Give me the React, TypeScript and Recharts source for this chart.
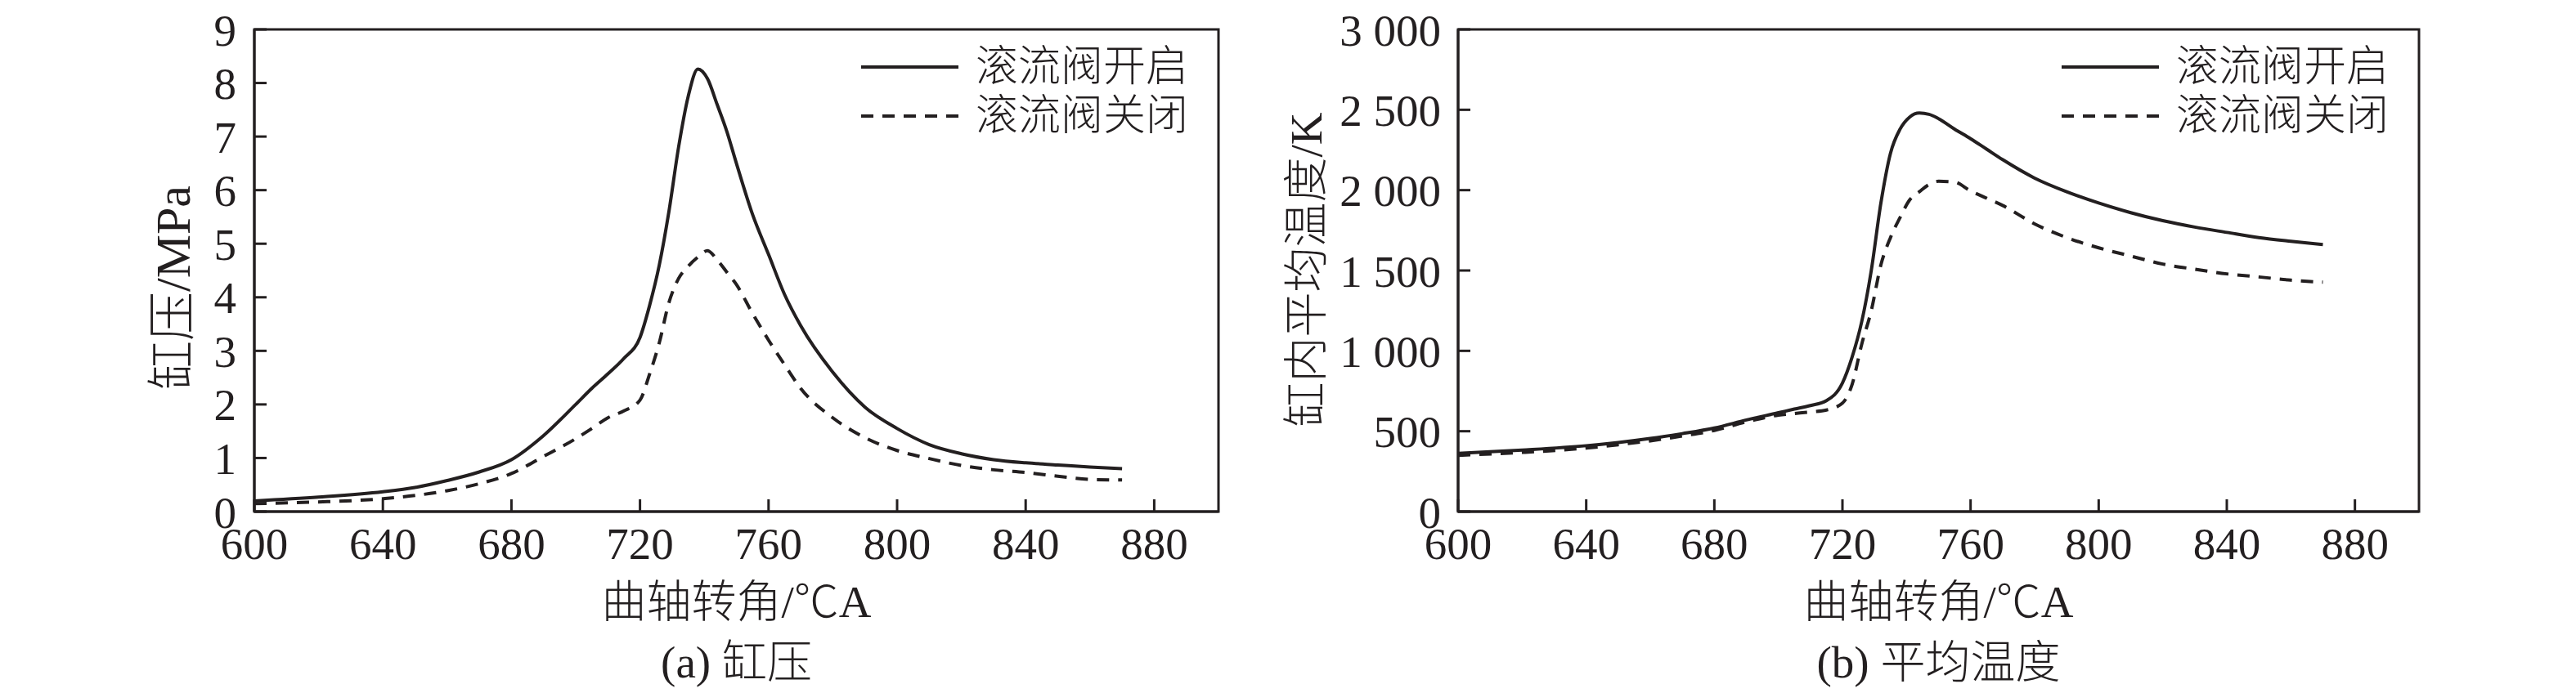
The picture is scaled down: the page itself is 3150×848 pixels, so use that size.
import React from 'react';
import { LineChart, Line, XAxis, YAxis, Legend, ReferenceArea } from 'recharts';

// crank angle samples shared by both panels
const crankAngles = [
  600, 620, 640, 650, 660, 670, 680, 690, 700, 705, 710, 715, 720,
  723, 726, 729, 732, 735, 738, 741, 744, 747, 750,
  755, 760, 765, 770, 780, 790, 800, 810, 820, 830, 840, 850, 860, 870,
];

// (a) cylinder pressure, MPa
const pressureOpen = [
  0.2, 0.27, 0.37, 0.45, 0.58, 0.74, 0.97, 1.42, 2.0, 2.3, 2.57, 2.86, 3.25,
  3.85, 4.6, 5.6, 6.8, 7.75, 8.26, 8.08, 7.6, 7.1, 6.5,
  5.55, 4.8, 4.05, 3.47, 2.6, 1.95, 1.55, 1.25, 1.08, 0.97, 0.91, 0.87, 0.83, 0.8,
];
const pressureClosed = [
  0.15, 0.18, 0.24, 0.3, 0.39, 0.52, 0.71, 1.03, 1.36, 1.55, 1.75, 1.88, 2.08,
  2.57, 3.15, 3.9, 4.35, 4.58, 4.75, 4.87, 4.7, 4.47, 4.24,
  3.7, 3.2, 2.74, 2.3, 1.75, 1.38, 1.14, 0.99, 0.86, 0.78, 0.73, 0.66, 0.6, 0.59,
];

// (b) mean in-cylinder temperature, K
const tempOpen = [
  362, 383, 410, 430, 455, 485, 520, 570, 615, 638, 660, 690, 800,
  960, 1180, 1500, 1920, 2230, 2380, 2455, 2480, 2472, 2445,
  2380, 2320, 2255, 2190, 2075, 1990, 1920, 1860, 1810, 1770, 1737, 1705, 1682, 1662,
];
const tempClosed = [
  350, 368, 395, 416, 440, 470, 505, 558, 600, 610, 620, 632, 675,
  790, 1040, 1250, 1535, 1705, 1830, 1940, 1990, 2035, 2055,
  2050, 1995, 1950, 1905, 1790, 1705, 1641, 1590, 1540, 1508, 1479, 1460, 1440, 1427,
];

const xTicks = [600, 640, 680, 720, 760, 800, 840, 880];
const pressureTicks = [0, 1, 2, 3, 4, 5, 6, 7, 8, 9];
const tempTicks = [0, 500, 1000, 1500, 2000, 2500, 3000];

const seriesNames = ['滚流阀开启', '滚流阀关闭'];

const INK = '#231f20';
const FONT = "'Liberation Serif', 'Noto Sans CJK SC', serif";
const DASH = '15 11';

const pressureData = crankAngles.map((angle, i) => ({
  angle,
  open: pressureOpen[i],
  closed: pressureClosed[i],
}));
const tempData = crankAngles.map((angle, i) => ({
  angle,
  open: tempOpen[i],
  closed: tempClosed[i],
}));

const formatThousands = (v: number) =>
  v >= 1000 ? `${Math.floor(v / 1000)} ${String(v % 1000).padStart(3, '0')}` : String(v);

const renderLegend = (props: any) => {
  // keep the series order, not the alphabetical one
  const items = [...(props.payload || [])].sort(
    (a: any, b: any) => seriesNames.indexOf(a.value) - seriesNames.indexOf(b.value),
  );
  return (
    <div>
      {items.map((entry: any) => (
        <div key={entry.value} style={{ display: 'flex', alignItems: 'center', height: 60 }}>
          <svg width={119} height={60}>
            <line
              x1={0}
              x2={119}
              y1={30}
              y2={30}
              stroke={INK}
              strokeWidth={4}
              strokeDasharray={entry.payload?.strokeDasharray}
            />
          </svg>
          <span
            style={{
              marginLeft: 21,
              fontSize: 52,
              fontWeight: 300,
              fontFamily: FONT,
              color: INK,
              lineHeight: '60px',
              whiteSpace: 'nowrap',
            }}
          >
            {entry.value}
          </span>
        </div>
      ))}
    </div>
  );
};

interface PanelProps {
  data: { angle: number; open: number; closed: number }[];
  yTicks: number[];
  yMax: number;
  yTitle: string;
  yTitleX: number;
  yTitleY: number;
  yTitleSize: number;
  caption: string;
  plotLeft: number;
  plotRight: number;
  yTickMargin: number;
  tickFormatter?: (v: number) => string;
}

const Panel: React.FC<PanelProps> = ({
  data, yTicks, yMax, yTitle, yTitleX, yTitleY, yTitleSize, caption, plotLeft, plotRight, yTickMargin, tickFormatter,
}) => {
  const W = 1575;
  const H = 848;
  const yAxisW = 150;
  const xAxisH = 60;
  const plotTop = 36;
  const plotBottom = 626;
  const centerX = (plotLeft + plotRight) / 2;

  return (
    <LineChart
      width={W}
      height={H}
      data={data}
      margin={{ top: plotTop, right: W - plotRight, bottom: H - plotBottom - xAxisH, left: plotLeft - yAxisW }}
    >
      <ReferenceArea
        x1={600}
        x2={900}
        y1={0}
        y2={yMax}
        fill="none"
        stroke={INK}
        strokeWidth={3}
        ifOverflow="visible"
      />
      <XAxis
        dataKey="angle"
        type="number"
        domain={[600, 900]}
        ticks={xTicks}
        interval={0}
        height={xAxisH}
        tickSize={-15}
        tickMargin={34}
        axisLine={{ stroke: INK, strokeWidth: 3 }}
        tickLine={{ stroke: INK, strokeWidth: 3 }}
        tick={{ fill: INK, fontSize: 55, fontFamily: FONT }}
        label={{
          content: () => (
            <g>
              <text x={centerX} y={736} textAnchor="middle" dominantBaseline="central"
                fontSize={55} fontWeight={300} fontFamily={FONT} fill={INK}>曲轴转角/℃A</text>
              <text x={centerX} y={810} textAnchor="middle" dominantBaseline="central"
                fontSize={55} fontWeight={300} fontFamily={FONT} fill={INK}>{caption}</text>
            </g>
          ),
        }}
      />
      <YAxis
        type="number"
        domain={[0, yMax]}
        ticks={yTicks}
        interval={0}
        width={yAxisW}
        tickSize={-15}
        tickMargin={yTickMargin}
        tickFormatter={tickFormatter}
        axisLine={{ stroke: INK, strokeWidth: 3 }}
        tickLine={{ stroke: INK, strokeWidth: 3 }}
        tick={{ fill: INK, fontSize: 55, fontFamily: FONT }}
        label={{
          content: () => (
            <text x={yTitleX} y={yTitleY} transform={`rotate(-90 ${yTitleX} ${yTitleY})`}
              textAnchor="middle" dominantBaseline="central"
              fontSize={yTitleSize} fontWeight={300} fontFamily={FONT} fill={INK}>{yTitle}</text>
          ),
        }}
      />
      <Legend
        layout="vertical"
        align="center"
        verticalAlign="middle"
        content={renderLegend}
        wrapperStyle={{ left: plotRight - 437, top: 52, right: 'auto', bottom: 'auto', width: 460 }}
      />
      <Line
        dataKey="open"
        name={seriesNames[0]}
        type="monotone"
        stroke={INK}
        strokeWidth={4}
        dot={false}
        isAnimationActive={false}
      />
      <Line
        dataKey="closed"
        name={seriesNames[1]}
        type="monotone"
        stroke={INK}
        strokeWidth={4}
        strokeDasharray={DASH}
        dot={false}
        isAnimationActive={false}
      />
    </LineChart>
  );
};

export default function App() {
  return (
    <div style={{ position: 'absolute', left: 0, top: 0, width: 3150, height: 848, background: '#fff' }}>
      <div style={{ position: 'absolute', left: 0, top: 0 }}>
        <Panel
          data={pressureData}
          yTicks={pressureTicks}
          yMax={9}
          yTitle="缸压/MPa"
          yTitleX={212}
          yTitleY={352}
          yTitleSize={60}
          caption="(a) 缸压"
          plotLeft={311}
          plotRight={1490}
          yTickMargin={37}
        />
      </div>
      <div style={{ position: 'absolute', left: 1480, top: 0 }}>
        <Panel
          data={tempData}
          yTicks={tempTicks}
          yMax={3000}
          yTitle="缸内平均温度/K"
          yTitleX={117}
          yTitleY={330}
          yTitleSize={55}
          caption="(b) 平均温度"
          plotLeft={303}
          plotRight={1478}
          yTickMargin={36}
          tickFormatter={formatThousands}
        />
      </div>
    </div>
  );
}
